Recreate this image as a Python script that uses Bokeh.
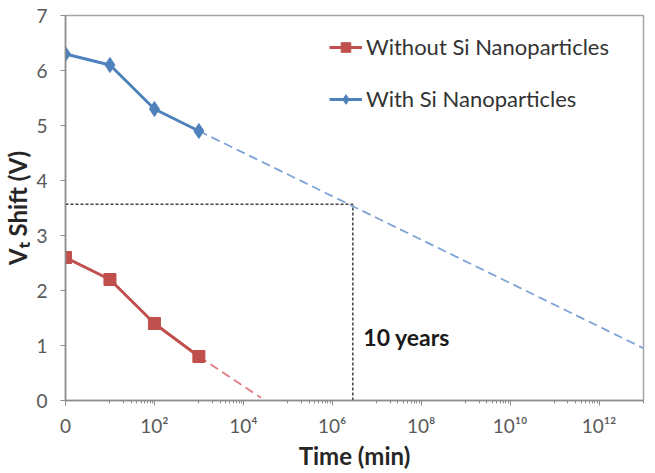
from bokeh.plotting import figure
from bokeh.models import (Range1d, FixedTicker, Legend, LegendItem, Label)
from bokeh.embed import file_html
from bokeh.resources import INLINE

# ---- data ----
time_min = [1, 10, 100, 1000]
with_si = [6.3, 6.1, 5.3, 4.9]
without_si = [2.6, 2.2, 1.4, 0.8]

with_si_extrap_t = [1000, 1e13]
with_si_extrap_v = [4.9, 0.95]
without_si_extrap_t = [1000, 2.5e4]
without_si_extrap_v = [0.8, 0.05]

ten_years_t = 2.9e6
threshold_v = 3.57

x_ticks = [1, 1e2, 1e4, 1e6, 1e8, 1e10, 1e12]
x_tick_labels = ["0", "10²", "10⁴", "10⁶", "10⁸", "10¹⁰", "10¹²"]
y_ticks = [0, 1, 2, 3, 4, 5, 6, 7]

FONT = "Lato"
RED = "#C0504D"
BLUE = "#4F81BD"
RED_LIGHT = "#E07A85"
BLUE_LIGHT = "#7EA3D6"
AXIS_GRAY = "#8C8C8C"
TEXT_GRAY = "#595959"

p = figure(width=655, height=473, x_axis_type="log",
           x_range=Range1d(1, 1e13), y_range=Range1d(0, 7),
           output_backend="svg", toolbar_location=None,
           min_border_left=65, min_border_right=12,
           min_border_top=15, min_border_bottom=73)

p.xgrid.visible = False
p.ygrid.visible = False
p.outline_line_color = "#A6A6A6"
p.outline_line_width = 1.5

# minor ticks: 10..90 x 100^n style (Excel log base-100 axis)
minor = []
for n in range(7):
    for k in range(1, 10):
        v = k * 10 ** (2 * n + 1)
        if v <= 1e13:
            minor.append(v)

xa = p.xaxis[0]
xa.ticker = FixedTicker(ticks=x_ticks, minor_ticks=minor)
xa.major_label_overrides = {t: l for t, l in zip(x_ticks, x_tick_labels)}
xa.axis_line_color = AXIS_GRAY
xa.axis_line_width = 1.5
xa.major_tick_line_color = AXIS_GRAY
xa.minor_tick_line_color = AXIS_GRAY
xa.major_tick_in = 0
xa.major_tick_out = 5
xa.minor_tick_in = 0
xa.minor_tick_out = 3
xa.major_label_text_font = FONT
xa.major_label_text_font_size = "19px"
xa.major_label_text_color = TEXT_GRAY
xa.major_label_standoff = 8
xa.axis_label = "Time (min)"
xa.axis_label_text_font = FONT
xa.axis_label_text_font_style = "bold"
xa.axis_label_text_font_size = "24px"
xa.axis_label_text_color = "#262626"
xa.axis_label_standoff = 1

ya = p.yaxis[0]
ya.ticker = FixedTicker(ticks=y_ticks)
ya.axis_line_color = AXIS_GRAY
ya.axis_line_width = 1.5
ya.major_tick_line_color = AXIS_GRAY
ya.major_tick_in = 0
ya.major_tick_out = 5
ya.minor_tick_line_color = None
ya.major_label_text_font = FONT
ya.major_label_text_font_size = "19px"
ya.major_label_text_color = TEXT_GRAY
ya.major_label_standoff = 13
ya.axis_label = "Vₜ Shift (V)"
ya.axis_label_text_font = FONT
ya.axis_label_text_font_style = "bold"
ya.axis_label_text_font_size = "24px"
ya.axis_label_text_color = "#262626"
ya.axis_label_standoff = 1

# reference lines
p.line([1, ten_years_t], [threshold_v, threshold_v], line_color="#404040",
       line_width=1.5, line_dash="3 2")
p.line([ten_years_t, ten_years_t], [0, threshold_v], line_color="#404040",
       line_width=1.5, line_dash="3 2")

# extrapolations
p.line(with_si_extrap_t, with_si_extrap_v, line_color=BLUE_LIGHT,
       line_width=1.8, line_dash="9 5")
p.line(without_si_extrap_t, without_si_extrap_v, line_color=RED_LIGHT,
       line_width=1.8, line_dash="9 5")

# measured data
rl = p.line(time_min, without_si, line_color=RED, line_width=3)
rm = p.scatter(time_min, without_si, marker="square", size=12,
               fill_color=RED, line_color=RED)
bl = p.line(time_min, with_si, line_color=BLUE, line_width=3)
bm = p.scatter(time_min, with_si, marker="diamond", size=15,
               fill_color=BLUE, line_color=BLUE)

legend = Legend(items=[
    LegendItem(label="Without Si Nanoparticles", renderers=[rl, rm]),
    LegendItem(label="With Si Nanoparticles", renderers=[bl, bm]),
], location=(264, 288))
legend.border_line_color = None
legend.background_fill_alpha = 0
legend.label_text_font = FONT
legend.label_text_font_size = "22px"
legend.label_text_color = "#333333"
legend.glyph_width = 33
legend.glyph_height = 24
legend.label_height = 24
legend.label_standoff = 4
legend.spacing = 25
legend.padding = 0
legend.margin = 0
p.add_layout(legend)

p.add_layout(Label(x=5e6, y=1.15, text="10  years", text_font=FONT,
                   text_font_style="bold", text_font_size="23px",
                   text_color="#1A1A1A", text_baseline="middle",
                   text_align="left"))

open("out.html", "w").write(file_html(p, INLINE))
